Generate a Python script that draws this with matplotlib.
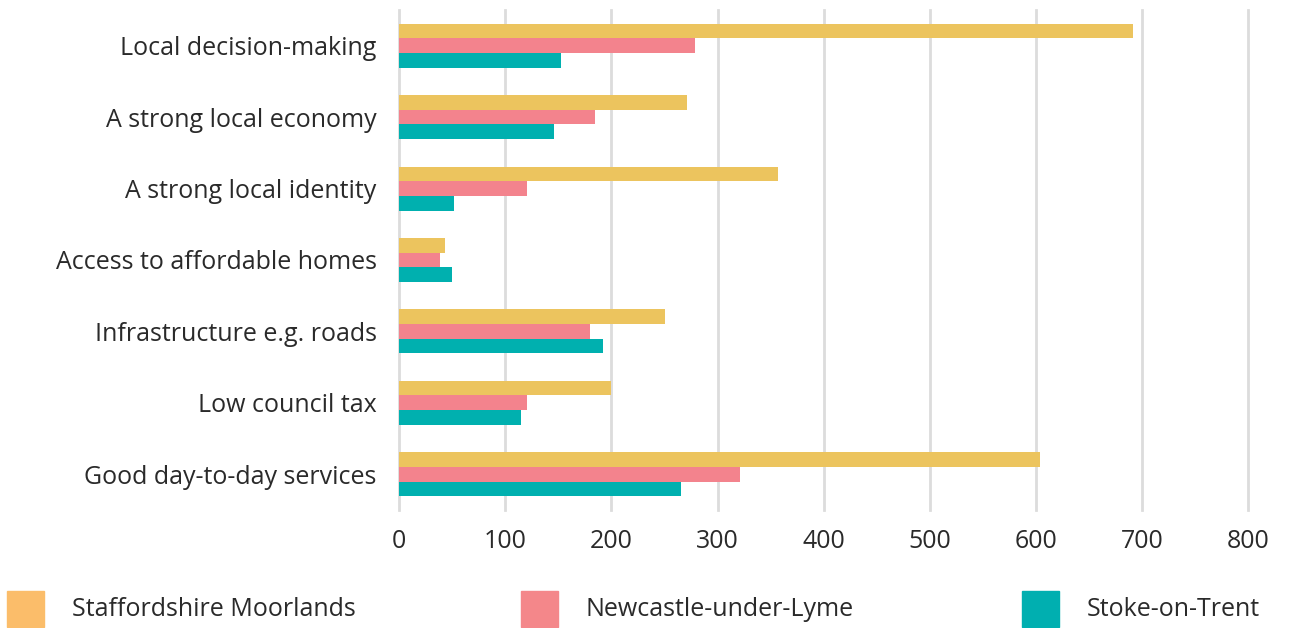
import matplotlib.pyplot as plt
from matplotlib.patches import Rectangle
import numpy as np

plt.rcParams['font.family'] = ['Open Sans', 'DejaVu Sans']

categories = [
    'Local decision-making',
    'A strong local economy',
    'A strong local identity',
    'Access to affordable homes',
    'Infrastructure e.g. roads',
    'Low council tax',
    'Good day-to-day services',
]
staffs_moorlands = [691, 271, 357, 43, 251, 200, 604]
newcastle = [279, 185, 121, 39, 180, 121, 321]
stoke = [153, 146, 52, 50, 192, 115, 266]

series_names = ['Staffordshire Moorlands', 'Newcastle-under-Lyme', 'Stoke-on-Trent']
bar_colors = ['#ECC45E', '#F3838D', '#00B0AF']
legend_colors = ['#FBBD6A', '#F4878A', '#00AFB0']
text_col = '#2a2a2a'
fs = 18

fig = plt.figure(figsize=(13.05, 6.28), dpi=100)
ax = fig.add_axes([0.3057, 0.188, 0.651, 0.796])

y = np.arange(len(categories))
h = 0.205
for i, (vals, col) in enumerate(zip([staffs_moorlands, newcastle, stoke], bar_colors)):
    ax.barh(y + (i - 1) * h, vals, height=h, color=col, zorder=2)

ax.set_ylim(len(categories) - 0.5, -0.5)
ax.set_xlim(0, 800)
ax.set_yticks(y)
ax.set_yticklabels(categories, fontsize=fs, color=text_col)
ax.set_xticks(range(0, 801, 100))
ax.tick_params(axis='x', labelsize=fs, labelcolor=text_col, length=0, pad=14)
ax.tick_params(axis='y', length=0, pad=16)
ax.grid(axis='x', color='#dcdcdc', linewidth=2, zorder=0)
for gl in ax.get_xgridlines():
    gl.set_clip_on(False)
for s in ax.spines.values():
    s.set_visible(False)

# legend along the bottom edge
legend_x = [7, 521, 1022]
W, H = 1305, 628
for name, col, lx in zip(series_names, legend_colors, legend_x):
    fig.patches.append(Rectangle((lx / W, 1 - 627 / H), 37 / W, 36 / H,
                                 transform=fig.transFigure, color=col))
    fig.text((lx + 65) / W, 1 - 610 / H, name, fontsize=fs, color=text_col,
             va='center', ha='left')

fig.savefig('out.png', dpi=100)
